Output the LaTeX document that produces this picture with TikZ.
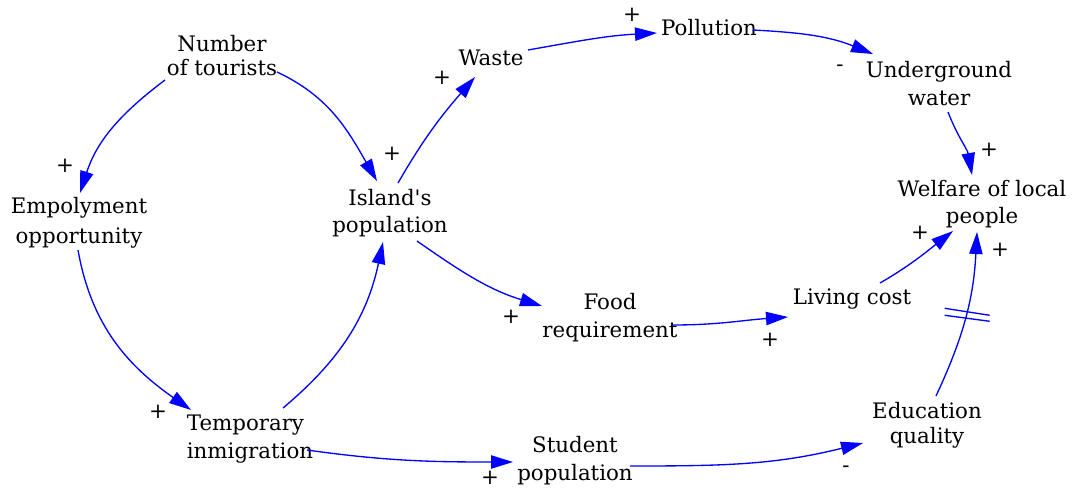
\documentclass[tikz,border=0pt]{standalone}
\usepackage{fontspec}
\setmainfont{DejaVu Serif}[Ligatures=TeXOff]
\usetikzlibrary{arrows.meta,calc}
\definecolor{linkblue}{RGB}{0,0,255}
\begin{document}
\begin{tikzpicture}[x=0.75pt,y=-0.75pt,
  var/.style={font=\fontsize{16}{20.5}\selectfont, align=center, inner sep=0pt},
  sign/.style={font=\fontsize{16}{20}\selectfont, inner sep=0pt},
  link/.style={draw=linkblue, line width=1pt, -{Triangle[length=16.5pt,width=10pt]}},
  bar/.style={draw=linkblue, line width=1pt},
]
\useasboundingbox (0,0) rectangle (1073,488);

% variables of the causal loop diagram
\node[var, font=\fontsize{16}{18}\selectfont] (num) at (222,55.5) {Number\\of tourists};
\node[var, font=\fontsize{16}{22.5}\selectfont] (emp) at (79,222.5) {Empolyment\\opportunity};
\node[var] (isl) at (390,213) {Island's\\population};
\node[var, align=left] (temp) at (250,439) {Temporary\\inmigration};
\node[var] (waste) at (491,58) {Waste};
\node[var] (poll) at (709,28) {Pollution};
\node[var] (under) at (939,83.5) {Underground\\water};
\node[var] (welf) at (982,204) {Welfare of local\\people};
\node[var] (food) at (610,317.5) {Food\\requirement};
\node[var] (living) at (852,299) {Living cost};
\node[var] (student) at (575,460.5) {Student\\population};
\node[var, font=\fontsize{16}{18.75}\selectfont] (edu) at (927,425.5) {Education\\quality};

% causal links
\draw[link] ($(num)+(-57,24.5)$) to[out=-143,in=72] ($(emp)+(1,-29.5)$);
\draw[link] ($(num)+(55,16.5)$) to[out=-25,in=120] ($(isl)+(-13,-32)$);
\draw[link] ($(emp)+(-1,27.5)$) to[out=-80,in=145] ($(temp)+(-59,-29)$);
\draw[link] ($(temp)+(33,-31)$) to[out=40,in=-102] ($(isl)+(-7,29)$);
\draw[link] ($(isl)+(8,-30)$) to[out=60,in=-131] ($(waste)+(-16,19)$);
\draw[link] ($(waste)+(37,-8)$) to[out=10,in=183] ($(poll)+(-52,5)$);
\draw[link] ($(poll)+(44,2)$) to[out=-3,in=158] ($(under)+(-66,-29.5)$);
\draw[link] ($(under)+(9,28.5)$) to[out=-69,in=100] ($(welf)+(-10,-29)$);
\draw[link] ($(isl)+(27,28)$) to[out=-35,in=163] ($(food)+(-68,-11.5)$);
\draw[link] ($(food)+(63,7.5)$) to[out=0,in=184] ($(living)+(-64,18)$);
\draw[link] ($(living)+(28,-16)$) to[out=30,in=218] ($(welf)+(-29,27)$);
\draw[link] ($(temp)+(57,11)$) to[out=-8,in=180] ($(student)+(-62,1.5)$);
\draw[link] ($(student)+(55,5.5)$) to[out=0,in=194] ($(edu)+(-64,17.5)$);
\draw[link] ($(edu)+(9,-29.5)$) to[out=65,in=-93] coordinate[pos=0.5] (delay) ($(welf)+(-5,28)$);

% delay mark on the education link
\draw[bar] ($(delay)+(-21,-8)$) -- ($(delay)+(24,-1)$);
\draw[bar] ($(delay)+(-21,-1)$) -- ($(delay)+(24,5)$);

% link polarities
\node[sign] (s1) at (65,166) {+};
\node[sign] (s2) at (392,154) {+};
\node[sign] (s3) at (158,412) {+};
\node[sign] (s5) at (442,78) {+};
\node[sign] (s6) at (632,15) {+};
\node[sign] (s7) at (840,68) {-};
\node[sign] (s8) at (989,150) {+};
\node[sign] (s9) at (511,317) {+};
\node[sign] (s10) at (770,340) {+};
\node[sign] (s11) at (920,233) {+};
\node[sign] (s12) at (490,478) {+};
\node[sign] (s13) at (846,469) {-};
\node[sign] (s14) at (1000,250) {+};
\end{tikzpicture}
\end{document}
